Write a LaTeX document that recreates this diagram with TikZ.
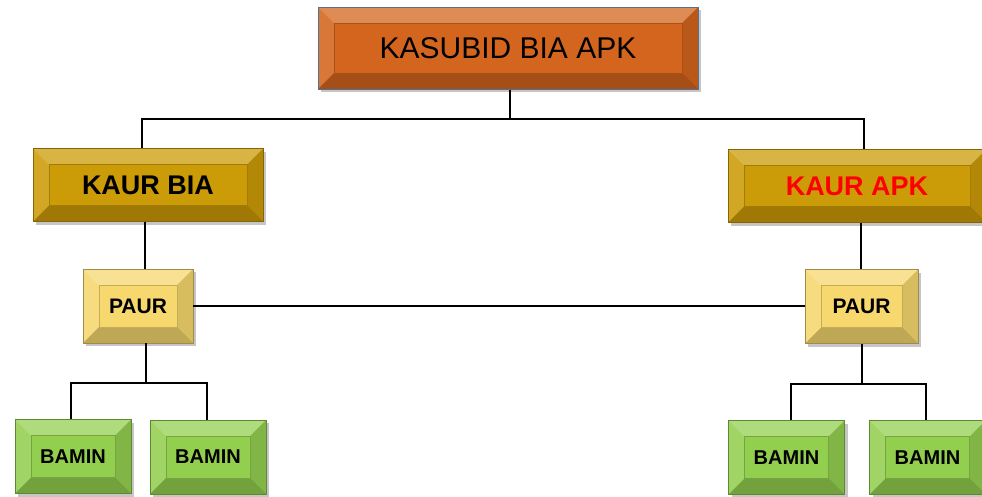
\documentclass[tikz,border=0pt]{standalone}
\usepackage{fontspec}
\setmainfont{Liberation Sans}
\usetikzlibrary{positioning,shadows}

\definecolor{kasubid}{HTML}{D4651E}
\definecolor{kasubidline}{HTML}{56718F}
\definecolor{kaur}{HTML}{CC9B08}
\definecolor{paur}{HTML}{F6D86E}
\definecolor{bamin}{HTML}{93CF4F}

\def\bev{16pt}

\tikzset{
  bevelbox/.style={rectangle,inner sep=0pt,fill=#1,draw=#1!65!black,line width=0.6pt,
    drop shadow={opacity=.45,shadow xshift=3pt,shadow yshift=-3pt},
    path picture={
      \fill[white,opacity=.25] (path picture bounding box.north west) -- (path picture bounding box.north east)
        -- ([xshift=-\bev,yshift=-\bev]path picture bounding box.north east)
        -- ([xshift=\bev,yshift=-\bev]path picture bounding box.north west) -- cycle;
      \fill[white,opacity=.12] (path picture bounding box.north west) -- (path picture bounding box.south west)
        -- ([xshift=\bev,yshift=\bev]path picture bounding box.south west)
        -- ([xshift=\bev,yshift=-\bev]path picture bounding box.north west) -- cycle;
      \fill[black,opacity=.22] (path picture bounding box.south west) -- (path picture bounding box.south east)
        -- ([xshift=-\bev,yshift=\bev]path picture bounding box.south east)
        -- ([xshift=\bev,yshift=\bev]path picture bounding box.south west) -- cycle;
      \fill[black,opacity=.12] (path picture bounding box.north east) -- (path picture bounding box.south east)
        -- ([xshift=-\bev,yshift=\bev]path picture bounding box.south east)
        -- ([xshift=-\bev,yshift=-\bev]path picture bounding box.north east) -- cycle;
      \draw[#1!80!black,line width=.5pt] ([xshift=\bev,yshift=-\bev]path picture bounding box.north west)
        rectangle ([xshift=-\bev,yshift=\bev]path picture bounding box.south east);
    }},
  topbox/.style={bevelbox=kasubid,draw=kasubidline,line width=1pt,minimum width=380pt,minimum height=82pt,
    font=\fontsize{30}{32}\selectfont},
  kaurbox/.style={bevelbox=kaur,minimum height=73pt,font=\fontsize{27}{30}\selectfont\bfseries},
  paurbox/.style={bevelbox=paur,minimum height=74pt,font=\fontsize{21}{24}\selectfont\bfseries},
  baminbox/.style={bevelbox=bamin,minimum height=74pt,minimum width=116pt,font=\fontsize{20}{23}\selectfont\bfseries},
  link/.style={draw=black,line width=2pt}
}

\begin{document}
\begin{tikzpicture}[x=1pt,y=-1pt]
\useasboundingbox (0,0) rectangle (982,496);

% boxes
\node[topbox] (kasubid) at (508,48) {KASUBID BIA APK};
\node[kaurbox,minimum width=230pt] (kaurbia) at (148,185) {KAUR BIA};
\node[kaurbox,minimum width=258pt,text=red] (kaurapk) at (857,186) {KAUR APK};
\node[paurbox,minimum width=110pt] (paurbia) at (138,306) {PAUR};
\node[paurbox,minimum width=113pt] (paurapk) at (861.5,306.5) {PAUR};
\node[baminbox] (bamin1) at (73,456.5) {BAMIN};
\node[baminbox] (bamin2) at (208,457) {BAMIN};
\node[baminbox] (bamin3) at (786.5,457.5) {BAMIN};
\node[baminbox] (bamin4) at (927.5,457.5) {BAMIN};

% junctions
\coordinate (jtop) at (510,119);
\coordinate (jbia) at (146,383);
\coordinate (japk) at (862,384);

% lines
\draw[link] (kasubid.south -| jtop) -- (jtop);
\draw[link] (kaurbia.north -| 142,0) |- (jtop) -| (kaurapk.north -| 864,0);
\draw[link] (kaurbia.south -| 145,0) -- (paurbia.north -| 145,0);
\draw[link] (kaurapk.south -| 861,0) -- (paurapk.north -| 861,0);
\draw[link] (paurbia.east) -- (paurbia.east -| paurapk.west);
\draw[link] (paurbia.south -| jbia) -- (jbia);
\draw[link] (bamin1.north -| 71,0) |- (jbia) -| (bamin2.north -| 207,0);
\draw[link] (paurapk.south -| japk) -- (japk);
\draw[link] (bamin3.north -| 791,0) |- (japk) -| (bamin4.north -| 926,0);
\end{tikzpicture}
\end{document}
